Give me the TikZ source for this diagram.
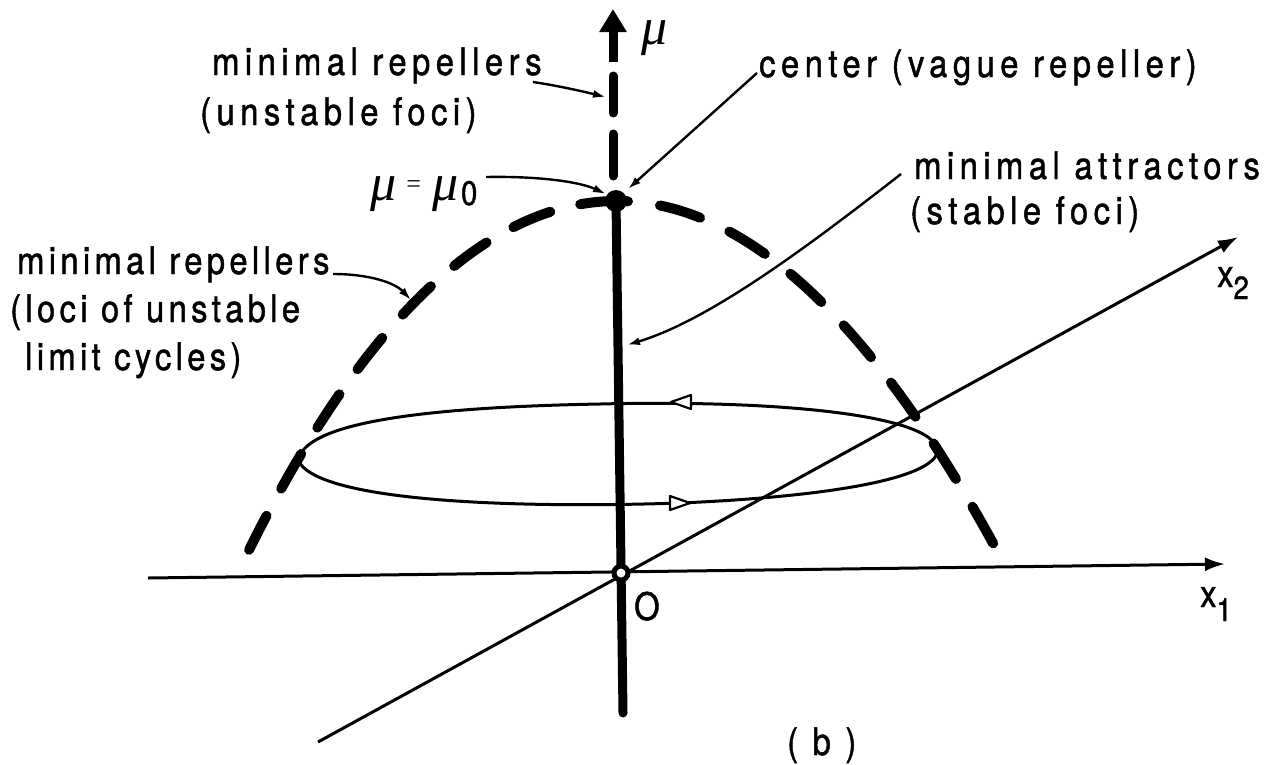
\documentclass[tikz,border=0pt]{standalone}
\usepackage{fontspec}
\setmainfont{TeX Gyre Heros}[FakeStretch=0.86,LetterSpace=14.5,FakeBold=1.2]
\newfontfamily\mufont{Liberation Serif}
\usetikzlibrary{arrows.meta}
\begin{document}
\begin{tikzpicture}[x=1pt,y=-1pt,
  lbl/.style={font=\fontsize{38}{46}\selectfont, inner sep=0pt, anchor=base west},
  lblnarrow/.style={lbl, font=\fontsize{38}{46}\selectfont\addfontfeature{LetterSpace=11.5}},
  leader/.style={line width=2.4pt, -{Latex[length=13pt,width=8pt]}},
  axisline/.style={line width=3pt, -{Latex[length=20pt,width=14pt]}},
  thickdash/.style={line width=10pt, line cap=round},
  muaxis/.style={line width=9pt, line cap=round},
  flowtip/.style={draw, line width=2.2pt, fill=white, line join=round},
]
\fill[white] (0,0) rectangle (1276,764);
\useasboundingbox (0,0) rectangle (1276,764);

% key points
\coordinate (O) at (621,573);
\coordinate (apex) at (616,201);
\coordinate (vbot) at (623,713);
\coordinate (x1s) at (148,578);
\coordinate (x1e) at (1225,564);
\coordinate (x2s) at (318,742);
\coordinate (x2e) at (1238,237);

% axes x1, x2
\draw[axisline] (x1s) -- (x1e);
\draw[axisline] (x2s) -- (x2e);

% mu axis
\draw[muaxis] (apex) -- (vbot);
\draw[muaxis] (613,176) -- (613,134);
\draw[muaxis] (613,113) -- (613,76);
\draw[line width=9pt, -{Triangle[length=23pt,width=26pt]}] (613,62) -- (613,9);

% dashed parabola (loci of unstable limit cycles)
\draw[thickdash, dash pattern=on 42pt off 32.3pt, dash phase=31pt]
  plot[domain=0:3.78, samples=80, variable=\t] ({617+100*\t},{201+24.2*\t*\t});
\draw[thickdash, dash pattern=on 40pt off 30.9pt, dash phase=3pt]
  plot[domain=0:3.68, samples=80, variable=\t] ({617-100*\t},{201+24.2*\t*\t+0.116*\t*\t*\t*\t});

% apex dot and origin
\fill (apex) circle[radius=11pt];
\draw[line width=5pt, fill=white] (O) circle[radius=7pt];

% limit cycle
\draw[line width=3pt] (298,460) .. controls (305,430) and (380,408) .. (600,404)
  .. controls (760,400) and (930,412) .. (938,450)
  .. controls (935,480) and (820,497) .. (680,503)
  .. controls (500,509) and (315,500) .. (298,460) -- cycle;
\draw[flowtip] (671,402) -- (691,395) -- (691,409) -- cycle;
\draw[flowtip] (690,503) -- (670,496) -- (670,510) -- cycle;

% labels
\node[lbl] (t1a) at (212,75) {minimal repellers};
\node[lbl] (t1b) at (200,125) {(unstable foci)};
\node[lbl] (t2) at (759,77) {center (vague repeller)};
\node[lbl] (t3a) at (914,179) {minimal attractors};
\node[lbl] (t3b) at (910,224) {(stable foci)};
\node[lblnarrow] (t4a) at (17,274) {minimal repellers};
\node[lblnarrow] (t4b) at (10,322) {(loci of unstable};
\node[lblnarrow] (t4c) at (25,370) {limit cycles)};
\node[anchor=base west, inner sep=0pt] (mu) at (641,44) {\fontsize{52}{52}\selectfont\mufont\itshape μ};
\node[anchor=base west, inner sep=0pt] (mueq) at (370,200) {\fontsize{52}{52}\selectfont\mufont\itshape μ\hspace{10pt}{\fontsize{26}{26}\selectfont\upshape\raisebox{8pt}{=}}\hspace{12pt}μ\hspace{2pt}{\fontsize{34}{34}\selectfont\upshape\rmfamily\raisebox{-5pt}{0}}};
\node[lbl] (x2l) at (1217,287) {x\raisebox{-12pt}{\fontsize{32}{32}\selectfont 2}};
\node[lbl] (x1l) at (1200,607) {x\raisebox{-14pt}{\fontsize{32}{32}\selectfont 1}};
\node[lbl] (olbl) at (634,620) {O};
\node[lbl] (blbl) at (787,755) {( b )};

% leaders
\coordinate (l1s) at (533,82);  \coordinate (l1e) at (606,97);
\coordinate (l2s) at (757,73);  \coordinate (l2e) at (628,189);
\coordinate (l3s) at (486,177); \coordinate (l3e) at (606,194);
\coordinate (l4s) at (901,174); \coordinate (l4e) at (627,345);
\coordinate (l5s) at (333,274); \coordinate (l5e) at (411,300);
\draw[leader] (l1s) .. controls (560,86) and (585,92) .. (l1e);
\draw[leader] (l2s) -- (l2e);
\draw[leader] (l3s) .. controls (540,176) and (580,182) .. (l3e);
\draw[leader] (l4s) .. controls (810,245) and (710,320) .. (l4e);
\draw[leader] (l5s) .. controls (370,274) and (395,283) .. (l5e);
\end{tikzpicture}
\end{document}
